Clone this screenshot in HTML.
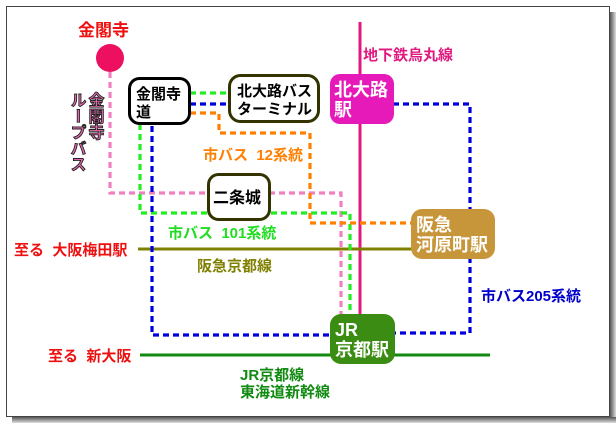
<!DOCTYPE html>
<html><head><meta charset="utf-8"><style>
html,body{margin:0;padding:0;background:#fff;}
body{width:616px;height:424px;overflow:hidden;position:relative;font-family:"Liberation Sans","Noto Sans CJK JP",sans-serif;}
</style></head><body>
<svg width="616" height="424" xmlns="http://www.w3.org/2000/svg" style="position:absolute;left:0;top:0">
<defs><linearGradient id="sh" x1="0" x2="1"><stop offset="0" stop-color="#555"/><stop offset="1" stop-color="#ddd"/></linearGradient>
<linearGradient id="shb" x1="0" y1="0" x2="0" y2="1"><stop offset="0" stop-color="#555"/><stop offset="1" stop-color="#ddd"/></linearGradient></defs>
<rect x="0" y="0" width="616" height="424" fill="#fff"/>
<rect x="610" y="12" width="6" height="410" fill="url(#sh)"/>
<rect x="12" y="417" width="604" height="6" fill="url(#shb)"/>
<rect x="6.5" y="6.5" width="603" height="410" fill="#fff" stroke="#444" stroke-width="1"/>
<g font-weight="bold" font-family="Liberation Sans, Noto Sans CJK JP, sans-serif">
<line x1="360" y1="22" x2="360" y2="318" stroke="#e0187f" stroke-width="3"/>
<line x1="138" y1="249" x2="412" y2="249" stroke="#808000" stroke-width="3"/>
<line x1="140" y1="355" x2="490" y2="355" stroke="#108a10" stroke-width="3"/>
<g fill="none" stroke-width="3.2" stroke-dasharray="6 4">
<polyline points="110,72 110,193 341,193 341,316" stroke="#f080c0"/>
<polyline points="190,93 228,93" stroke="#22ee22"/>
<polyline points="140,124 140,213 350,213 350,316" stroke="#22ee22"/>
<polyline points="190,104 228,104" stroke="#0000dd"/>
<polyline points="393,104 470,104 470,333 395,333" stroke="#0000dd"/>
<polyline points="152,126 152,335 330,335" stroke="#0000dd"/>
<polyline points="190,113 219,113 219,133 310,133 310,223 412,223" stroke="#ff8000"/>
</g>
<circle cx="110" cy="58" r="14" fill="#ee1060"/>
<text x="78" y="36" fill="#ee1010" font-size="17">金閣寺</text>
<text x="363" y="60" fill="#e0187f" font-size="15">地下鉄烏丸線</text>
<rect x="129.5" y="78.5" width="60" height="45" rx="10" fill="#fff" stroke="#000" stroke-width="3"/>
<text x="136" y="99" font-size="15" fill="#000">金閣寺</text><text x="136" y="117" font-size="15" fill="#000">道</text>
<rect x="229.5" y="75.5" width="89" height="46" rx="11" fill="#fff" stroke="#333300" stroke-width="3"/>
<text x="237" y="96" font-size="15" fill="#000">北大路バス</text><text x="237" y="114" font-size="15" fill="#000">ターミナル</text>
<rect x="330" y="74" width="64" height="50" rx="10" fill="#e61ab8"/>
<text x="334" y="96" font-size="18" fill="#fff">北大路</text><text x="334" y="116" font-size="18" fill="#fff">駅</text>
<rect x="208.5" y="174.5" width="61" height="45" rx="10" fill="#fff" stroke="#333300" stroke-width="3"/>
<text x="213" y="203" font-size="16" fill="#000">二条城</text>
<rect x="411" y="209" width="84" height="50" rx="11" fill="#c8963a"/>
<text x="416" y="231" font-size="18" fill="#fff">阪急</text><text x="416" y="251" font-size="18" fill="#fff">河原町駅</text>
<rect x="330" y="314" width="65" height="50" rx="11" fill="#3a8c12"/>
<text x="335" y="336" font-size="18" fill="#fff">JR</text><text x="335" y="356" font-size="18" fill="#fff">京都駅</text>
<text x="203" y="160" fill="#ff8000" font-size="15">市バス&#160;&#160;12系統</text>
<text x="168" y="238" fill="#22dd22" font-size="15">市バス&#160;&#160;101系統</text>
<text x="14" y="255" fill="#ee1010" font-size="15">至る&#160;&#160;大阪梅田駅</text>
<text x="197" y="271" fill="#808000" font-size="15">阪急京都線</text>
<text x="481" y="301" fill="#0000cc" font-size="15">市バス205系統</text>
<text x="48" y="361" fill="#ee1010" font-size="15">至る&#160;&#160;新大阪</text>
<text x="240" y="380" fill="#108a10" font-size="15">JR京都線</text>
<text x="240" y="397" fill="#108a10" font-size="15">東海道新幹線</text>
<g font-size="16" fill="#e868b0" stroke="#222" stroke-width="0.9">
<text x="94" y="92" style="writing-mode:vertical-rl">金閣寺</text>
<text x="76" y="92" style="writing-mode:vertical-rl">ループバス</text>
</g>
</g>
</svg>
</body></html>
